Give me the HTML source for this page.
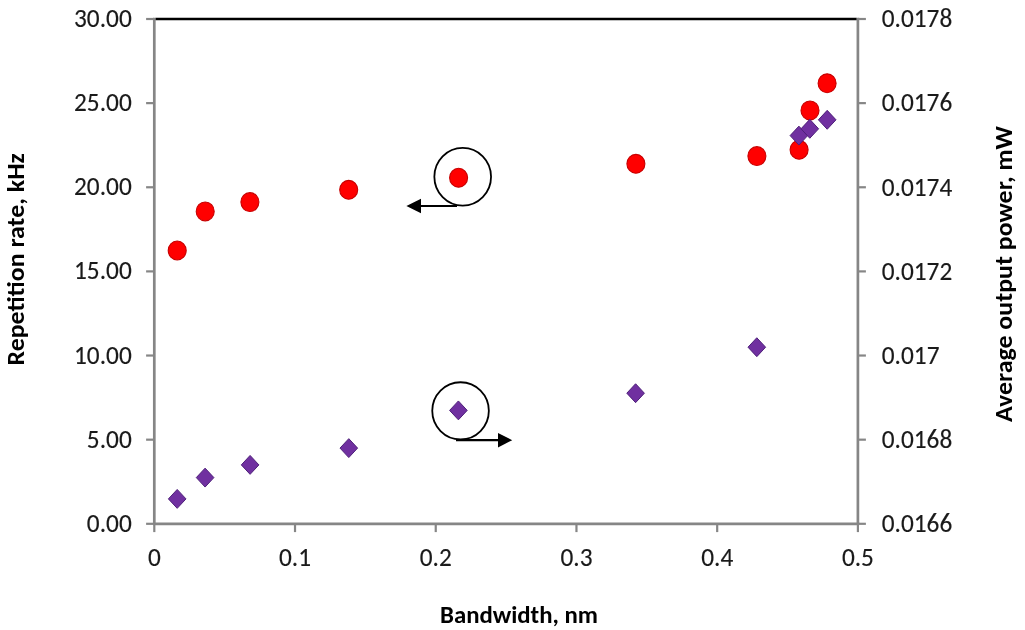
<!DOCTYPE html>
<html><head><meta charset="utf-8"><title>Repetition rate and average output power vs bandwidth</title>
<style>html,body{margin:0;padding:0;background:#fff;}body{width:1025px;height:630px;overflow:hidden;}svg{display:block;}</style>
</head><body>
<svg width="1025" height="630" viewBox="0 0 1025 630">
<rect width="1025" height="630" fill="#fff"/>
<g stroke="#868686" stroke-width="2.2" fill="none">
<line x1="146.1" y1="523.80" x2="154.3" y2="523.80"/>
<line x1="857.9" y1="523.80" x2="865.9" y2="523.80"/>
<line x1="146.1" y1="439.67" x2="154.3" y2="439.67"/>
<line x1="857.9" y1="439.67" x2="865.9" y2="439.67"/>
<line x1="146.1" y1="355.53" x2="154.3" y2="355.53"/>
<line x1="857.9" y1="355.53" x2="865.9" y2="355.53"/>
<line x1="146.1" y1="271.40" x2="154.3" y2="271.40"/>
<line x1="857.9" y1="271.40" x2="865.9" y2="271.40"/>
<line x1="146.1" y1="187.27" x2="154.3" y2="187.27"/>
<line x1="857.9" y1="187.27" x2="865.9" y2="187.27"/>
<line x1="146.1" y1="103.13" x2="154.3" y2="103.13"/>
<line x1="857.9" y1="103.13" x2="865.9" y2="103.13"/>
<line x1="146.1" y1="19.00" x2="154.3" y2="19.00"/>
<line x1="857.9" y1="19.00" x2="865.9" y2="19.00"/>
<line x1="154.30" y1="523.8" x2="154.30" y2="532.1"/>
<line x1="295.02" y1="523.8" x2="295.02" y2="532.1"/>
<line x1="435.74" y1="523.8" x2="435.74" y2="532.1"/>
<line x1="576.46" y1="523.8" x2="576.46" y2="532.1"/>
<line x1="717.18" y1="523.8" x2="717.18" y2="532.1"/>
<line x1="857.90" y1="523.8" x2="857.90" y2="532.1"/>
</g>
<g stroke="#868686" stroke-width="2.7" fill="none">
<line x1="154.3" y1="17.75" x2="154.3" y2="523.8"/>
<line x1="857.9" y1="17.75" x2="857.9" y2="523.8"/>
<line x1="152.95000000000002" y1="523.8" x2="859.25" y2="523.8"/>
</g>
<line x1="155.60000000000002" y1="19.0" x2="856.6" y2="19.0" stroke="#000" stroke-width="2.5"/>
<g font-family="Carlito, 'Liberation Sans', sans-serif" font-size="25.3" fill="#1a1a1a" stroke="#1a1a1a" stroke-width="0.15">
<text transform="translate(131.7 531.80) scale(1 1.04)" text-anchor="end" textLength="44.84" lengthAdjust="spacingAndGlyphs">0.00</text>
<text transform="translate(881.8 532.10) scale(1 1.04)" textLength="70.45" lengthAdjust="spacingAndGlyphs">0.0166</text>
<text transform="translate(131.7 447.67) scale(1 1.04)" text-anchor="end" textLength="44.84" lengthAdjust="spacingAndGlyphs">5.00</text>
<text transform="translate(881.8 447.97) scale(1 1.04)" textLength="70.45" lengthAdjust="spacingAndGlyphs">0.0168</text>
<text transform="translate(131.7 363.53) scale(1 1.04)" text-anchor="end" textLength="57.65" lengthAdjust="spacingAndGlyphs">10.00</text>
<text transform="translate(881.8 363.83) scale(1 1.04)" textLength="57.65" lengthAdjust="spacingAndGlyphs">0.017</text>
<text transform="translate(131.7 279.40) scale(1 1.04)" text-anchor="end" textLength="57.65" lengthAdjust="spacingAndGlyphs">15.00</text>
<text transform="translate(881.8 279.70) scale(1 1.04)" textLength="70.45" lengthAdjust="spacingAndGlyphs">0.0172</text>
<text transform="translate(131.7 195.27) scale(1 1.04)" text-anchor="end" textLength="57.65" lengthAdjust="spacingAndGlyphs">20.00</text>
<text transform="translate(881.8 195.57) scale(1 1.04)" textLength="70.45" lengthAdjust="spacingAndGlyphs">0.0174</text>
<text transform="translate(131.7 111.13) scale(1 1.04)" text-anchor="end" textLength="57.65" lengthAdjust="spacingAndGlyphs">25.00</text>
<text transform="translate(881.8 111.43) scale(1 1.04)" textLength="70.45" lengthAdjust="spacingAndGlyphs">0.0176</text>
<text transform="translate(131.7 27.00) scale(1 1.04)" text-anchor="end" textLength="57.65" lengthAdjust="spacingAndGlyphs">30.00</text>
<text transform="translate(881.8 27.30) scale(1 1.04)" textLength="70.45" lengthAdjust="spacingAndGlyphs">0.0178</text>
<text transform="translate(154.30 565.5) scale(1 1.04)" text-anchor="middle" textLength="12.80" lengthAdjust="spacingAndGlyphs">0</text>
<text transform="translate(295.02 565.5) scale(1 1.04)" text-anchor="middle" textLength="32.04" lengthAdjust="spacingAndGlyphs">0.1</text>
<text transform="translate(435.74 565.5) scale(1 1.04)" text-anchor="middle" textLength="32.04" lengthAdjust="spacingAndGlyphs">0.2</text>
<text transform="translate(576.46 565.5) scale(1 1.04)" text-anchor="middle" textLength="32.04" lengthAdjust="spacingAndGlyphs">0.3</text>
<text transform="translate(717.18 565.5) scale(1 1.04)" text-anchor="middle" textLength="32.04" lengthAdjust="spacingAndGlyphs">0.4</text>
<text transform="translate(857.90 565.5) scale(1 1.04)" text-anchor="middle" textLength="32.04" lengthAdjust="spacingAndGlyphs">0.5</text>
</g>
<g font-family="Carlito, 'Liberation Sans', sans-serif" font-weight="bold" fill="#000">
<text x="519" y="622.5" text-anchor="middle" font-size="24.8" textLength="158.02" lengthAdjust="spacingAndGlyphs">Bandwidth, nm</text>
<text transform="translate(24.3 259.35) rotate(-90) scale(1 0.93)" text-anchor="middle" font-size="25.9" textLength="212.41" lengthAdjust="spacingAndGlyphs">Repetition rate, kHz</text>
<text transform="translate(1012.2 274) rotate(-90) scale(1 0.93)" text-anchor="middle" font-size="25.9" textLength="296.05" lengthAdjust="spacingAndGlyphs">Average output power, mW</text>
</g>
<g fill="#ff0000" stroke="#c80000" stroke-width="1.1">
<ellipse cx="177.2" cy="250.5" rx="9.0" ry="9.45"/>
<ellipse cx="205.2" cy="211.4" rx="9.0" ry="9.45"/>
<ellipse cx="249.9" cy="202.1" rx="9.0" ry="9.45"/>
<ellipse cx="348.7" cy="189.8" rx="9.0" ry="9.45"/>
<ellipse cx="458.6" cy="177.7" rx="9.0" ry="9.45"/>
<ellipse cx="635.9" cy="163.8" rx="9.0" ry="9.45"/>
<ellipse cx="756.9" cy="156.1" rx="9.0" ry="9.45"/>
<ellipse cx="799.1" cy="149.8" rx="9.0" ry="9.45"/>
<ellipse cx="810.0" cy="110.4" rx="9.0" ry="9.45"/>
<ellipse cx="827.1" cy="83.3" rx="9.0" ry="9.45"/>
</g>
<g fill="#7030a0" stroke="#4e1f7a" stroke-width="1" stroke-linejoin="round">
<path d="M177.2 489.45L186.00 498.9L177.2 508.35L168.40 498.9Z"/>
<path d="M205.1 468.15L213.90 477.6L205.1 487.05L196.30 477.6Z"/>
<path d="M250.1 455.45L258.90 464.9L250.1 474.35L241.30 464.9Z"/>
<path d="M348.8 438.65L357.60 448.1L348.8 457.55L340.00 448.1Z"/>
<path d="M458.4 400.95L467.20 410.4L458.4 419.85L449.60 410.4Z"/>
<path d="M635.6 383.75L644.40 393.2L635.6 402.65L626.80 393.2Z"/>
<path d="M756.8 337.75L765.60 347.2L756.8 356.65L748.00 347.2Z"/>
<path d="M798.9 126.15L807.70 135.6L798.9 145.05L790.10 135.6Z"/>
<path d="M809.8 119.35L818.60 128.8L809.8 138.25L801.00 128.8Z"/>
<path d="M827.2 110.35L836.00 119.8L827.2 129.25L818.40 119.8Z"/>
</g>
<g stroke="#000" stroke-width="2.2" fill="none">
<ellipse cx="462.7" cy="176.7" rx="28.35" ry="28.85" stroke-width="1.8"/>
<line x1="457" y1="206" x2="418" y2="206"/>
<ellipse cx="460.55" cy="410.85" rx="28.3" ry="28.6" stroke-width="1.8"/>
<line x1="456" y1="440.2" x2="500" y2="440.2"/>
</g>
<path d="M406.4 206L421 198.8L421 213.2Z" fill="#000"/>
<path d="M512.2 440.2L498 433L498 447.4Z" fill="#000"/>
</svg>
</body></html>
